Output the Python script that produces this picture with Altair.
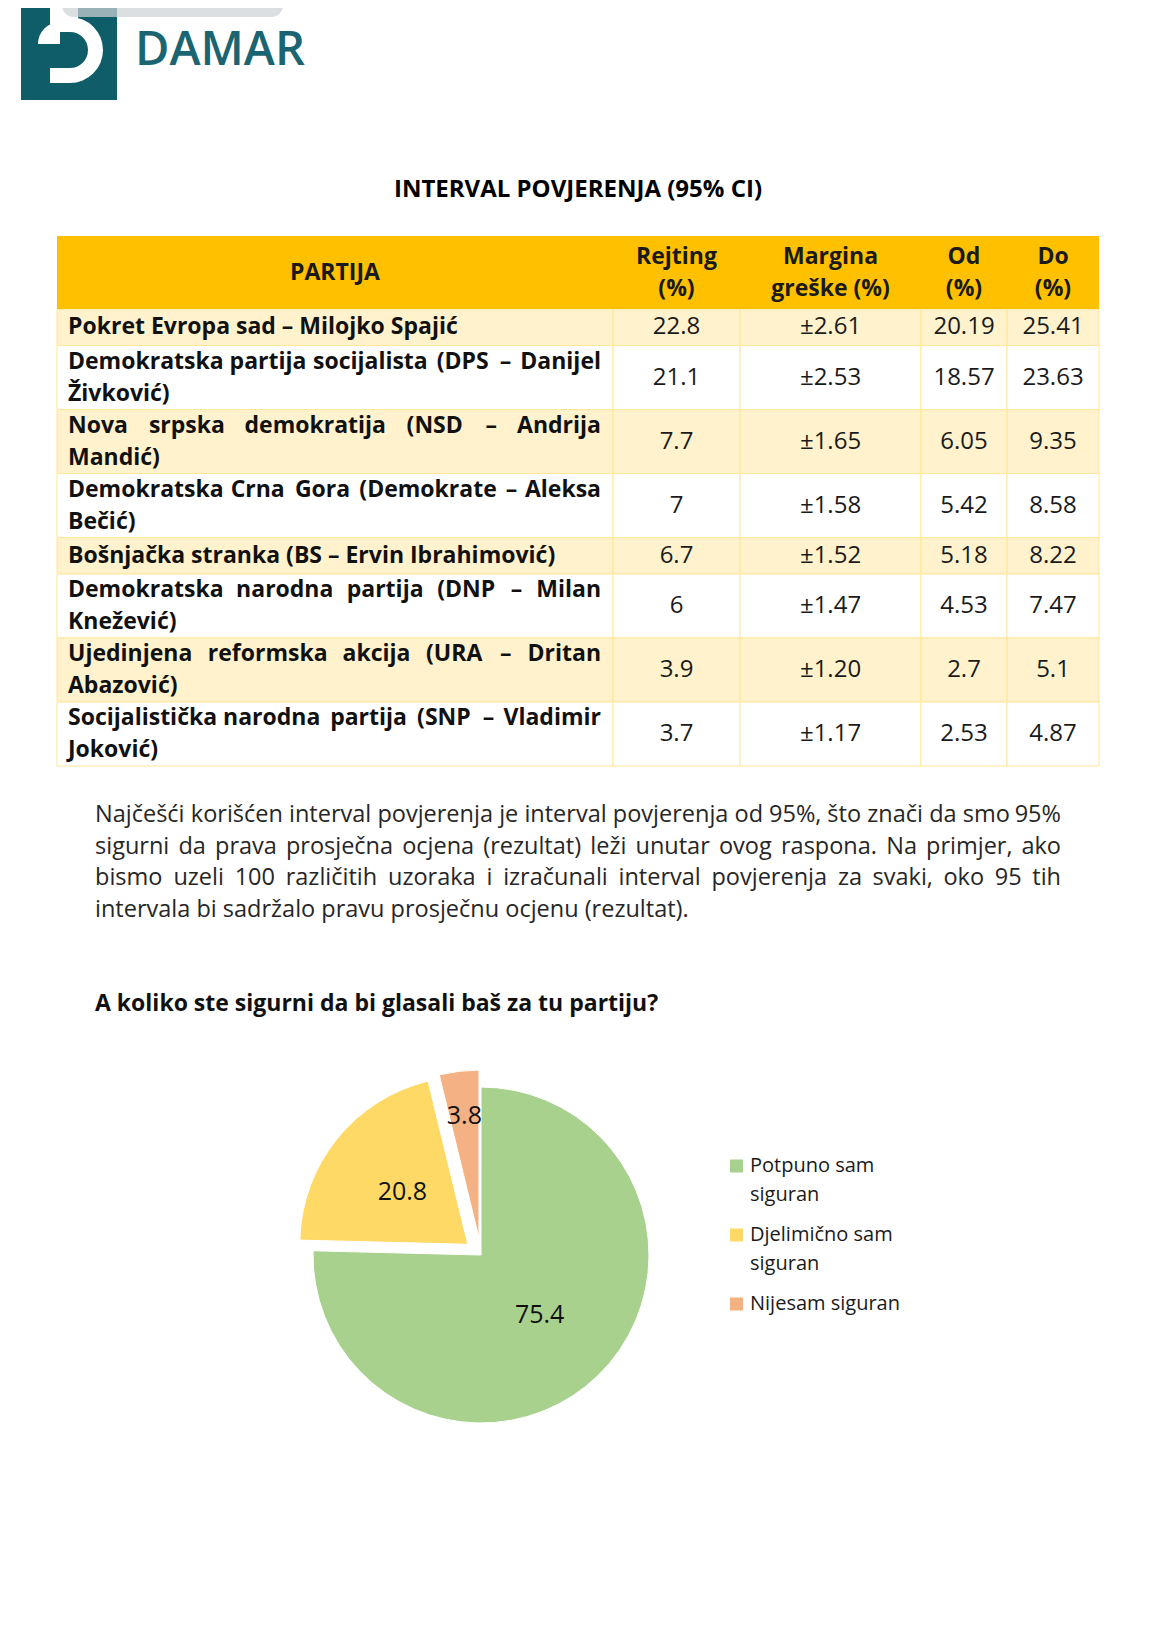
import math
import altair as alt
import pandas as pd

# ------------------------------------------------------------------ data
brand = "DAMAR"
title = "INTERVAL POVJERENJA (95% CI)"
headers = [["PARTIJA"], ["Rejting", "(%)"], ["Margina", "greške (%)"], ["Od", "(%)"], ["Do", "(%)"]]
parties = [
    ["Pokret Evropa sad – Milojko Spajić"],
    ["Demokratska partija socijalista (DPS – Danijel", "Živković)"],
    ["Nova srpska demokratija (NSD – Andrija", "Mandić)"],
    ["Demokratska Crna Gora (Demokrate – Aleksa", "Bečić)"],
    ["Bošnjačka stranka (BS – Ervin Ibrahimović)"],
    ["Demokratska narodna partija (DNP – Milan", "Knežević)"],
    ["Ujedinjena reformska akcija (URA – Dritan", "Abazović)"],
    ["Socijalistička narodna partija (SNP – Vladimir", "Joković)"],
]
rejting = ["22.8", "21.1", "7.7", "7", "6.7", "6", "3.9", "3.7"]
margina = ["±2.61", "±2.53", "±1.65", "±1.58", "±1.52", "±1.47", "±1.20", "±1.17"]
od = ["20.19", "18.57", "6.05", "5.42", "5.18", "4.53", "2.7", "2.53"]
do = ["25.41", "23.63", "9.35", "8.58", "8.22", "7.47", "5.1", "4.87"]

paragraph = [
    "Najčešći korišćen interval povjerenja je interval povjerenja od 95%, što znači da smo 95%",
    "sigurni da prava prosječna ocjena (rezultat) leži unutar ovog raspona. Na primjer, ako",
    "bismo uzeli 100 različitih uzoraka i izračunali interval povjerenja za svaki, oko 95 tih",
    "intervala bi sadržalo pravu prosječnu ocjenu (rezultat).",
]
question = "A koliko ste sigurni da bi glasali baš za tu partiju?"

pie_cats = ["Potpuno sam siguran", "Djelimično sam siguran", "Nijesam siguran"]
pie_legend_lines = [["Potpuno sam", "siguran"], ["Djelimično sam", "siguran"], ["Nijesam siguran"]]
pie_values = [75.4, 20.8, 3.8]
pie_colors = ["#a9d18e", "#ffd966", "#f4b183"]

# ------------------------------------------------------------------ layout (chart px)
W, H = 1154, 1611
FONT = "Open Sans"
TEAL = "#105d6a"

col_edges = [49, 605, 732, 913, 999, 1091]
head_top, head_bot = 228, 301
row_h1, row_h2 = 36.5, 64
line_gap = 32

# approximate Open Sans advance widths (per 1000 em) used only to justify lines
_adv = {
    " ": 260, "a": 556, "b": 613, "c": 476, "d": 613, "e": 561, "f": 339, "g": 548,
    "h": 614, "i": 253, "j": 253, "k": 525, "l": 253, "m": 930, "n": 614, "o": 604,
    "p": 613, "q": 613, "r": 408, "s": 477, "t": 353, "u": 614, "v": 501, "w": 778,
    "x": 524, "y": 502, "z": 477, "č": 476, "ć": 476, "š": 477, "ž": 477,
    ",": 240, ".": 266, "%": 828, "(": 297, ")": 297, "–": 500,
    "A": 633, "B": 649, "C": 631, "D": 729, "E": 556, "G": 728, "I": 279, "J": 267,
    "K": 590, "L": 516, "M": 903, "N": 765, "O": 781, "P": 603, "R": 615, "S": 547,
    "T": 560, "U": 722, "V": 595, "Ž": 551,
}

def est_w(s, size, bold):
    w = sum(_adv.get(ch, 572 if ch.isdigit() else 600) for ch in s) * size / 1000
    return w * (1.07 if bold else 1.0)

def justify(line, left, width, y, size, bold):
    """Return words with an anchor: first word left-aligned at `left`, last word
    right-aligned at `left+width`, middle words centred in evenly spread slots."""
    words = line.split(" ")
    ws = [est_w(w, size, bold) for w in words]
    gap = max((width - sum(ws)) / (len(words) - 1), 0.26 * size)
    out, x = [], left
    last = len(words) - 1
    for k, (w, ww) in enumerate(zip(words, ws)):
        if k == 0:
            out.append(dict(x=left, y=y, t=w, a="L"))
        elif k == last:
            out.append(dict(x=left + width, y=y, t=w, a="R"))
        else:
            out.append(dict(x=x + ww / 2, y=y, t=w, a="C"))
        x += ww + gap
    return out

def X(f, **kw):
    return alt.X(f, scale=None, axis=None, **kw)

def Y(f, **kw):
    return alt.Y(f, scale=None, axis=None, **kw)

def word_layers(rows, **style):
    df = pd.DataFrame(rows)
    out = []
    for code, al in (("L", "left"), ("C", "center"), ("R", "right")):
        part = df[df["a"] == code]
        if len(part):
            out.append(alt.Chart(part).mark_text(align=al, baseline="middle", **style).encode(
                x=X("x:Q"), y=Y("y:Q"), text="t:N"))
    return out

layers = []

# ---------------- logo
logo_rects = pd.DataFrame([
    dict(x=13, x2=109, y=0, y2=92, c=TEAL),
    dict(x=42, x2=70, y=0, y2=24, c="#ffffff"),
    dict(x=42, x2=62, y=60, y2=75, c="#ffffff"),
])
layers.append(alt.Chart(logo_rects).mark_rect().encode(
    x=X("x:Q"), x2="x2:Q", y=Y("y:Q"), y2="y2:Q", color=alt.Color("c:N", scale=None)))
logo_arcs = pd.DataFrame([
    dict(cx=62, cy=42, r0=18, r1=33, t0=0.0, t1=math.pi),
    dict(cx=52, cy=36, r0=0, r1=22, t0=1.5 * math.pi, t1=2 * math.pi),
])
layers.append(alt.Chart(logo_arcs).mark_arc(color="#ffffff").encode(
    x=X("cx:Q"), y=Y("cy:Q"),
    theta=alt.Theta("t0:Q", scale=None, stack=None), theta2="t1:Q",
    radius=alt.Radius("r1:Q", scale=None), radius2="r0:Q"))
layers.append(alt.Chart(pd.DataFrame([dict(x=54, x2=275, y=-14, y2=9)])).mark_rect(
    color="#cdd3d5", opacity=0.72, cornerRadius=12).encode(
    x=X("x:Q"), x2="x2:Q", y=Y("y:Q"), y2="y2:Q"))
layers.append(alt.Chart(pd.DataFrame([dict(x=127, y=57, t=brand)])).mark_text(
    font=FONT, fontSize=47, fontWeight=600, color="#1b6471", align="left",
    baseline="alphabetic").encode(x=X("x:Q"), y=Y("y:Q"), text="t:N"))

# ---------------- title
layers.append(alt.Chart(pd.DataFrame([dict(x=570, y=182, t=title)])).mark_text(
    font=FONT, fontSize=24, fontWeight=700, color="#000000", baseline="middle").encode(
    x=X("x:Q"), y=Y("y:Q"), text="t:N"))

# ---------------- table cells
cells, head_cells, txt_left, txt_just, txt_head, txt_num = [], [], [], [], [], []
for j in range(5):
    head_cells.append(dict(x=col_edges[j], x2=col_edges[j + 1], y=head_top, y2=head_bot))
    cx = (col_edges[j] + col_edges[j + 1]) / 2
    hy = (head_top + head_bot) / 2
    n = len(headers[j])
    for k, ln in enumerate(headers[j]):
        txt_head.append(dict(x=cx, y=hy + (k - (n - 1) / 2) * line_gap, t=ln))

TXT_L, TXT_W = col_edges[0] + 11, 533
top = head_bot
for i, lines in enumerate(parties):
    h = row_h1 if len(lines) == 1 else row_h2
    fill = "#fff2cc" if i % 2 == 0 else "#ffffff"
    cy = top + h / 2
    for j in range(5):
        cells.append(dict(x=col_edges[j], x2=col_edges[j + 1], y=top, y2=top + h, c=fill))
    n = len(lines)
    for k, ln in enumerate(lines):
        ly_ = cy + (k - (n - 1) / 2) * line_gap
        if n > 1 and k < n - 1:
            txt_just.extend(justify(ln, TXT_L, TXT_W, ly_, 23, True))
        else:
            txt_left.append(dict(x=TXT_L, y=ly_, t=ln))
    for j, v in enumerate([rejting[i], margina[i], od[i], do[i]]):
        txt_num.append(dict(x=(col_edges[j + 1] + col_edges[j + 2]) / 2, y=cy, t=v))
    top += h

layers.append(alt.Chart(pd.DataFrame(cells)).mark_rect(stroke="#ffe699", strokeWidth=1).encode(
    x=X("x:Q"), x2="x2:Q", y=Y("y:Q"), y2="y2:Q", color=alt.Color("c:N", scale=None)))
layers.append(alt.Chart(pd.DataFrame(head_cells)).mark_rect(color="#ffc000").encode(
    x=X("x:Q"), x2="x2:Q", y=Y("y:Q"), y2="y2:Q"))
layers.append(alt.Chart(pd.DataFrame(txt_head)).mark_text(
    font=FONT, fontSize=23, fontWeight=700, color="#1a1a1a", baseline="middle").encode(
    x=X("x:Q"), y=Y("y:Q"), text="t:N"))
layers.append(alt.Chart(pd.DataFrame(txt_left)).mark_text(
    font=FONT, fontSize=23, fontWeight=700, color="#111111", align="left", baseline="middle").encode(
    x=X("x:Q"), y=Y("y:Q"), text="t:N"))
layers.extend(word_layers(txt_just, font=FONT, fontSize=23, fontWeight=700, color="#111111"))
layers.append(alt.Chart(pd.DataFrame(txt_num)).mark_text(
    font=FONT, fontSize=24, color="#1a1a1a", baseline="middle").encode(
    x=X("x:Q"), y=Y("y:Q"), text="t:N"))

# ---------------- paragraph (justified) + question
P_L, P_W = 87, 966
para_just, para_left = [], []
for k, ln in enumerate(paragraph):
    y_ = 807 + 31.5 * k
    if k < len(paragraph) - 1:
        para_just.extend(justify(ln, P_L, P_W, y_, 23.5, False))
    else:
        para_left.append(dict(x=P_L, y=y_, t=ln))
layers.extend(word_layers(para_just, font=FONT, fontSize=23.5, color="#262626"))
layers.append(alt.Chart(pd.DataFrame(para_left)).mark_text(
    font=FONT, fontSize=23.5, color="#262626", align="left", baseline="middle").encode(
    x=X("x:Q"), y=Y("y:Q"), text="t:N"))
layers.append(alt.Chart(pd.DataFrame([dict(x=87, y=996, t=question)])).mark_text(
    font=FONT, fontSize=23, fontWeight=700, color="#111111", align="left", baseline="middle").encode(
    x=X("x:Q"), y=Y("y:Q"), text="t:N"))

# ---------------- pie (exploded)
PCX, PCY, R, EXPL = 473, 1247, 168, 17
total = sum(pie_values)
rows, acc = [], 0.0
for i, (c, v, col) in enumerate(zip(pie_cats, pie_values, pie_colors)):
    t0 = 2 * math.pi * acc / total
    acc += v
    t1 = 2 * math.pi * acc / total
    mid = (t0 + t1) / 2
    e = 0 if i == 0 else EXPL
    cx = PCX + e * math.sin(mid)
    cy = PCY - e * math.cos(mid)
    lr = 0.73 * R if v < 10 else 0.5 * R
    rows.append(dict(cat=c, value=v, color=col, t0=t0, t1=t1, cx=cx, cy=cy,
                     lx=cx + lr * math.sin(mid), ly=cy - lr * math.cos(mid),
                     lab=f"{v:.1f}"))
pie = pd.DataFrame(rows)
layers.append(alt.Chart(pie).mark_arc(outerRadius=R, stroke="#ffffff", strokeWidth=1).encode(
    x=X("cx:Q"), y=Y("cy:Q"),
    theta=alt.Theta("t0:Q", scale=None, stack=None), theta2="t1:Q",
    color=alt.Color("color:N", scale=None)))
layers.append(alt.Chart(pie).mark_text(
    font=FONT, fontSize=25, color="#111111", baseline="middle").encode(
    x=X("lx:Q"), y=Y("ly:Q"), text="lab:N"))

# ---------------- legend
leg_sq, leg_tx = [], []
ly = 1158
for c, col, lines in zip(pie_cats, pie_colors, pie_legend_lines):
    leg_sq.append(dict(x=728.5, y=ly, c=col))
    for k, ln in enumerate(lines):
        leg_tx.append(dict(x=742, y=ly + 29 * k, t=ln))
    ly += 29 * len(lines) + 11
layers.append(alt.Chart(pd.DataFrame(leg_sq)).mark_square(size=169, opacity=1).encode(
    x=X("x:Q"), y=Y("y:Q"), color=alt.Color("c:N", scale=None)))
layers.append(alt.Chart(pd.DataFrame(leg_tx)).mark_text(
    font=FONT, fontSize=20, color="#1a1a1a", align="left", baseline="middle").encode(
    x=X("x:Q"), y=Y("y:Q"), text="t:N"))

chart = alt.layer(*layers).properties(
    width=W, height=H, padding=0, background="#ffffff",
    autosize=alt.AutoSizeParams(type="none")
).configure_view(stroke=None)

chart.save("out.html", embed_options={"renderer": "svg", "actions": False})
